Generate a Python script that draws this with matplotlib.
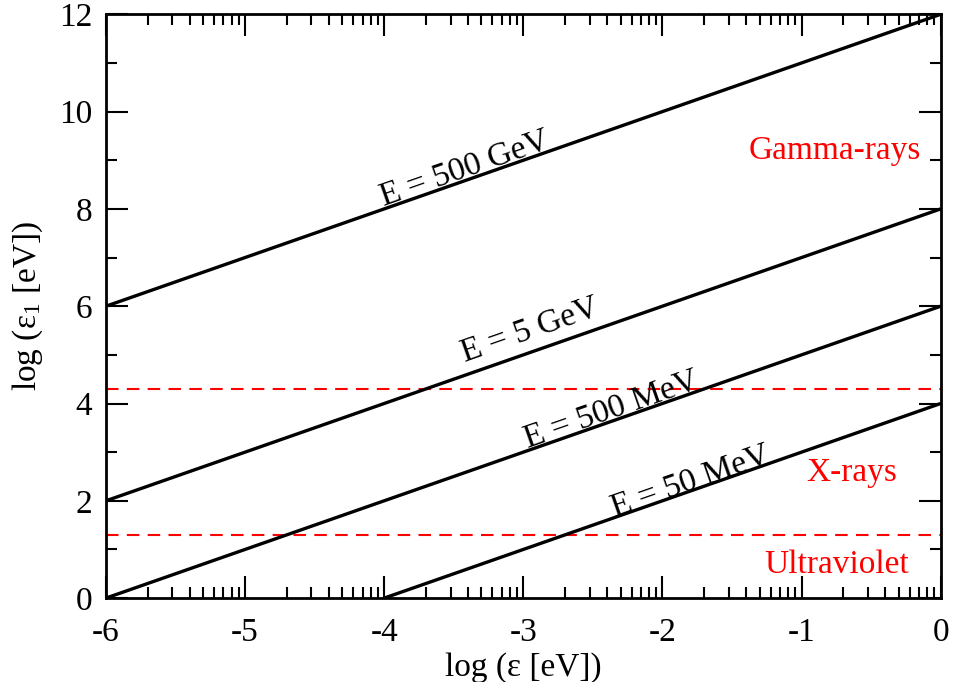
import numpy as np
import matplotlib
matplotlib.use('Agg')
import matplotlib.pyplot as plt
from matplotlib.ticker import FixedLocator, MultipleLocator, FormatStrFormatter

plt.rcParams['font.family'] = ['Liberation Serif', 'DejaVu Serif']
plt.rcParams['mathtext.fontset'] = 'custom'
plt.rcParams['mathtext.rm'] = 'Liberation Serif'
plt.rcParams['mathtext.it'] = 'Liberation Serif:italic'
plt.rcParams['axes.unicode_minus'] = False

# log of the target photon energy and the threshold lines for each gamma energy
energy_labels = ['E = 500 GeV', 'E = 5 GeV', 'E = 500 MeV', 'E = 50 MeV']
line_x_start = [-6, -6, -6, -4]
line_x_end = [0, 0, 0, 0]
line_offsets = [12, 8, 6, 4]          # log(eps_1) at log(eps) = 0
label_x = [-3.42, -2.95, -2.37, -1.80]
label_y = [8.84, 5.52, 3.88, 2.40]

# band boundaries and band names
band_limits = [4.3, 1.3]
band_names = ['Gamma-rays', 'X-rays', 'Ultraviolet']
band_x = [-0.76, -0.64, -0.75]
band_y = [9.2, 2.57, 0.68]

x_major = [-6, -5, -4, -3, -2, -1, 0]
y_major = [0, 2, 4, 6, 8, 10, 12]


def threshold_plot():
    fig = plt.figure(figsize=(9.54, 6.82), dpi=100)
    ax = fig.add_axes([0.111, 0.123, 0.875, 0.856])

    for yl in band_limits:
        ax.axhline(yl, color='red', lw=1.5, dashes=(6, 4))

    for x0, x1, c in zip(line_x_start, line_x_end, line_offsets):
        x = np.array([x0, x1])
        ax.plot(x, x + c, color='black', lw=2.4, solid_capstyle='butt')

    ax.set_xlim(-6, 0)
    ax.set_ylim(0, 12)

    # rotation of a slope-1 line in display space
    fig.canvas.draw()
    p0 = ax.transData.transform((-6, 0))
    p1 = ax.transData.transform((0, 6))
    angle = np.degrees(np.arctan2(p1[1] - p0[1], p1[0] - p0[0]))

    for txt, x, y in zip(energy_labels, label_x, label_y):
        ax.text(x, y, txt, rotation=angle, rotation_mode='anchor',
                ha='center', va='center', fontsize=24)

    for txt, x, y in zip(band_names, band_x, band_y):
        ax.text(x, y, txt, color='red', ha='center', va='center', fontsize=24)

    # log-style minor ticks inside each decade
    minor = [d + np.log10(k) for d in range(-6, 0) for k in range(2, 10)]
    ax.xaxis.set_major_locator(FixedLocator(x_major))
    ax.xaxis.set_minor_locator(FixedLocator(minor))
    ax.xaxis.set_major_formatter(FormatStrFormatter('%d'))
    ax.yaxis.set_major_locator(FixedLocator(y_major))
    ax.yaxis.set_minor_locator(MultipleLocator(1))
    ax.yaxis.set_major_formatter(FormatStrFormatter('%d'))

    ax.tick_params(which='both', direction='in', top=True, right=True,
                   labelsize=24, width=1.5)
    ax.tick_params(axis='x', which='major', pad=14)
    ax.tick_params(axis='y', which='major', pad=10)
    ax.tick_params(which='major', length=16)
    ax.tick_params(which='minor', length=8)
    for s in ax.spines.values():
        s.set_linewidth(2)

    ax.set_xlabel('log (ε [eV])', fontsize=24, labelpad=3)
    ax.set_ylabel('log (ε$_1$ [eV])', fontsize=24, labelpad=10)

    fig.savefig('out.png', dpi=100)


if __name__ == "__main__":
    threshold_plot()
